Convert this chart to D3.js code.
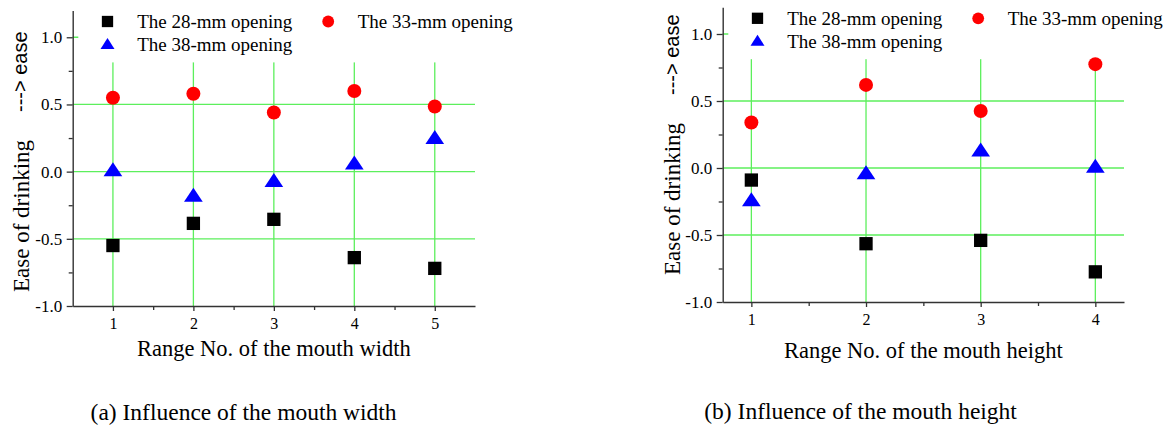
<!DOCTYPE html>
<html>
<head>
<meta charset="utf-8">
<script src="https://cdn.jsdelivr.net/npm/d3@7/dist/d3.min.js"></script>
<style>
  html, body { margin: 0; padding: 0; background: #fff; }
  svg { display: block; }
</style>
</head>
<body>
<svg id="chart" width="1169" height="427"></svg>
<script>
// ---------------- DATA ----------------
const widthCats = [1, 2, 3, 4, 5];
const width28 = [-0.55, -0.385, -0.355, -0.64, -0.72];
const width33 = [0.55, 0.58, 0.44, 0.60, 0.485];
const width38 = [0.0, -0.19, -0.08, 0.05, 0.24];

const heightCats = [1, 2, 3, 4];
const height28 = [-0.09, -0.565, -0.54, -0.775];
const height33 = [0.34, 0.62, 0.425, 0.775];
const height38 = [-0.25, -0.05, 0.12, 0.0];

const yTicks = [-1.0, -0.5, 0.0, 0.5, 1.0];
const yMinorTicks = [-0.75, -0.25, 0.25, 0.75];
const yDomain = [-1.0, 1.2];

const seriesNames = ["The 28-mm opening", "The 33-mm opening", "The 38-mm opening"];
const xTitles = ["Range No. of the mouth width", "Range No. of the mouth height"];
const captions = ["(a) Influence of the mouth width", "(b) Influence of the mouth height"];
const yTitle = "Ease of drinking";
const yTitle2 = "---> ease";

// ---------------- DRAW ----------------
const svg = d3.select("#chart");
const SERIF = "'Liberation Serif','Times New Roman',Times,serif";
const SANS = "'Liberation Sans',Arial,Helvetica,sans-serif";
const GRID = "#5cef5c";
const AXIS = "#333";
const TEXT = "#000";

function drawSquare(g, cx, cy, s) {
  g.append("rect").attr("x", cx - s / 2).attr("y", cy - s / 2)
    .attr("width", s).attr("height", s).attr("fill", "#000");
}
function drawCircle(g, cx, cy, r) {
  g.append("circle").attr("cx", cx).attr("cy", cy).attr("r", r).attr("fill", "#ff0000");
}
function drawTriangle(g, cx, cy, w, h) {
  // centroid at (cx, cy)
  const p = d3.path();
  p.moveTo(cx, cy - 2 * h / 3);
  p.lineTo(cx + w / 2, cy + h / 3);
  p.lineTo(cx - w / 2, cy + h / 3);
  p.closePath();
  g.append("path").attr("d", p.toString()).attr("fill", "#0000ff");
}

function drawPanel(cfg) {
  const g = svg.append("g");
  const x = d3.scaleLinear().domain(cfg.xDomain).range([cfg.x0, cfg.x1]);
  const y = d3.scaleLinear().domain(yDomain).range([cfg.yBottom, cfg.yTop]);

  // grid
  g.append("g").selectAll("line").data(yTicks.filter(v => v > yDomain[0])).join("line")
    .attr("x1", cfg.x0).attr("x2", cfg.x1)
    .attr("y1", d => y(d)).attr("y2", d => y(d))
    .attr("stroke", GRID).attr("stroke-width", 1.3);
  g.append("g").selectAll("line").data(cfg.cats).join("line")
    .attr("x1", d => x(d)).attr("x2", d => x(d))
    .attr("y1", cfg.yBottom).attr("y2", cfg.yTop)
    .attr("stroke", GRID).attr("stroke-width", 1.3);

  // legend background (covers grid)
  g.append("rect").attr("x", cfg.x0 + 5.6).attr("y", cfg.yTop - 2)
    .attr("width", cfg.x1 - cfg.x0 - 5.6 + 2).attr("height", 54)
    .attr("fill", "#fff");

  // axes
  const yAxis = d3.axisLeft(y).tickValues(yTicks).tickSize(6).tickSizeOuter(0)
    .tickPadding(4.5).tickFormat(d => d.toFixed(1));
  const ya = g.append("g").attr("transform", `translate(${cfg.x0},0)`).call(yAxis);
  const yAxisMinor = d3.axisLeft(y).tickValues(yMinorTicks).tickSize(4).tickSizeOuter(0).tickFormat("");
  const yam = g.append("g").attr("transform", `translate(${cfg.x0},0)`).call(yAxisMinor);
  yam.select(".domain").remove();

  const xAxis = d3.axisBottom(x).tickValues(cfg.cats).tickSize(5).tickSizeOuter(0)
    .tickFormat(d => String(d));
  const xa = g.append("g").attr("transform", `translate(0,${cfg.yBottom})`).call(xAxis);
  const xAxisMinor = d3.axisBottom(x).tickValues(cfg.cats.map(c => c + 0.5).filter(v => v < cfg.xDomain[1]))
    .tickSize(4).tickSizeOuter(0).tickFormat("");
  const xam = g.append("g").attr("transform", `translate(0,${cfg.yBottom})`).call(xAxisMinor);
  xam.select(".domain").remove();

  [ya, yam, xa, xam].forEach(a => {
    a.attr("font-family", SERIF);
    a.selectAll(".domain").attr("stroke", AXIS).attr("stroke-width", 1.4);
    a.selectAll(".tick line").attr("stroke", AXIS).attr("stroke-width", 1.3);
  });
  ya.selectAll(".tick text").attr("font-family", SERIF).attr("font-size", 17).attr("fill", TEXT);
  xa.selectAll(".tick text").attr("font-family", SERIF).attr("font-size", 16).attr("fill", TEXT)
    .attr("dy", null).attr("y", 23.3);

  // markers
  const mk = g.append("g");
  cfg.cats.forEach((c, i) => drawSquare(mk, x(c), y(cfg.s28[i]), 13.3));
  cfg.cats.forEach((c, i) => drawCircle(mk, x(c), y(cfg.s33[i]), 7));
  cfg.cats.forEach((c, i) => drawTriangle(mk, x(c), y(cfg.s38[i]), 18.7, 14));

  // legend
  const lg = g.append("g");
  const r1 = cfg.yTop + 11.1, r2 = cfg.yTop + 34.2;
  drawSquare(lg, cfg.x0 + 34.8, r1, 11.3);
  drawCircle(lg, cfg.x0 + 255.5, r1, 5.9);
  drawTriangle(lg, cfg.x0 + 34.8, r2 + 0.8, 14, 11);
  const lt = [[seriesNames[0], cfg.x0 + 64.5, r1], [seriesNames[1], cfg.x0 + 285, r1], [seriesNames[2], cfg.x0 + 64.5, r2]];
  lg.selectAll("text").data(lt).join("text")
    .attr("x", d => d[1]).attr("y", d => d[2] + 6.6)
    .attr("font-family", SERIF).attr("font-size", 19).attr("fill", TEXT)
    .text(d => d[0]);

  // axis titles
  g.append("text").attr("x", (cfg.x0 + cfg.x1) / 2).attr("y", cfg.xTitleY)
    .attr("text-anchor", "middle").attr("font-family", SERIF).attr("font-size", 22.5).attr("fill", TEXT)
    .text(cfg.xTitle);
  g.append("text").attr("transform", `translate(${cfg.yLabX},${cfg.yLabStart}) rotate(-90)`)
    .attr("text-anchor", "start").attr("font-family", SERIF).attr("font-size", 23).attr("fill", TEXT)
    .text(yTitle);
  g.append("text").attr("transform", `translate(${cfg.easeX},${cfg.easeStart}) rotate(-90)`)
    .attr("text-anchor", "start").attr("font-family", SANS).attr("font-size", 20).attr("fill", TEXT)
    .text(yTitle2);

  // caption
  g.append("text").attr("x", cfg.capX).attr("y", cfg.capY)
    .attr("text-anchor", "middle").attr("font-family", SERIF).attr("font-size", 23.5).attr("fill", TEXT)
    .text(cfg.caption);
}

drawPanel({
  cats: widthCats, s28: width28, s33: width33, s38: width38,
  xDomain: [0.5, 5.5], x0: 72.7, x1: 475, yTop: 10.4, yBottom: 306,
  xTitle: xTitles[0], xTitleY: 356,
  yLabX: 28.5, yLabStart: 292, easeX: 27, easeStart: 112,
  caption: captions[0], capX: 243.6, capY: 420
});
drawPanel({
  cats: heightCats, s28: height28, s33: height33, s38: height38,
  xDomain: [0.75, 4.25], x0: 722.7, x1: 1124, yTop: 7.2, yBottom: 302,
  xTitle: xTitles[1], xTitleY: 358.3,
  yLabX: 680, yLabStart: 275, easeX: 678.5, easeStart: 95,
  caption: captions[1], capX: 860.6, capY: 418.5
});
</script>
</body>
</html>
